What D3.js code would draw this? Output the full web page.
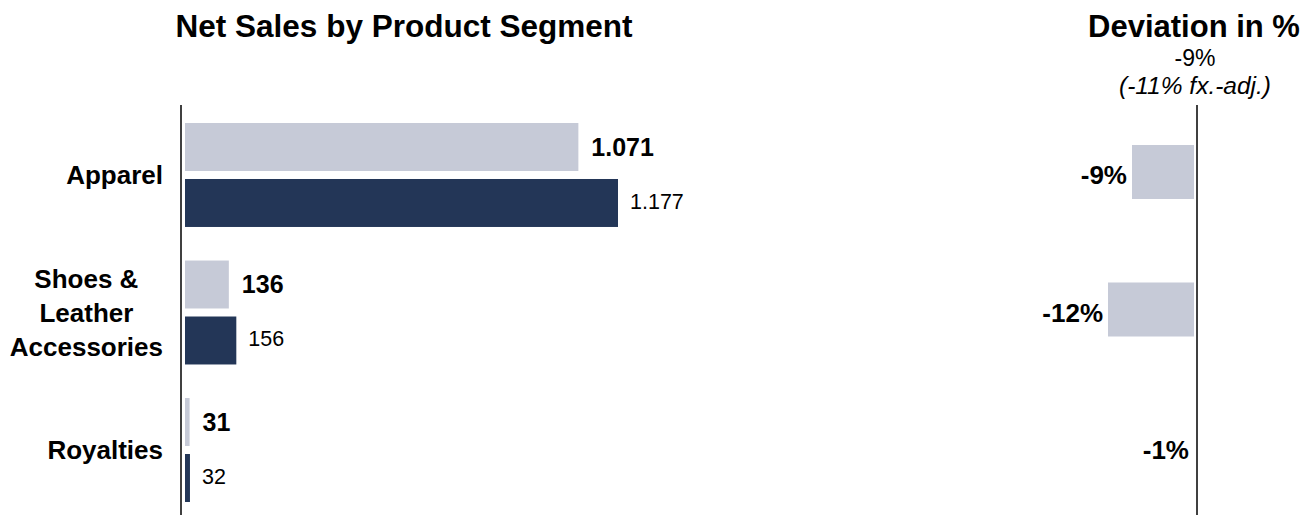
<!DOCTYPE html>
<html>
<head>
<meta charset="utf-8">
<script src="https://cdn.jsdelivr.net/npm/d3@7"></script>
<style>
  body { margin: 0; background: #fff; }
  text { font-family: "Liberation Sans", Arial, sans-serif; fill: #000; }
</style>
</head>
<body>
<svg id="chart" width="1305" height="515"></svg>
<script>
// data
const categories = ["Apparel", "Shoes & Leather Accessories", "Royalties"];
const categoryLines = [["Apparel"], ["Shoes &", "Leather", "Accessories"], ["Royalties"]];
const currentYear = [1071, 136, 31];
const previousYear = [1177, 156, 32];
const deviation = [-9, -12, -1];
const valueLabelsCur = ["1.071", "136", "31"];
const valueLabelsPrev = ["1.177", "156", "32"];

const svg = d3.select("#chart");
const light = "#c6cad7", dark = "#233657";

// titles
svg.append("text").attr("x", 404).attr("y", 37).attr("text-anchor", "middle")
  .style("font-size", "31.5px").style("font-weight", "bold").text("Net Sales by Product Segment");
svg.append("text").attr("x", 1194).attr("y", 37).attr("text-anchor", "middle")
  .style("font-size", "31px").style("font-weight", "bold").text("Deviation in %");
svg.append("text").attr("x", 1195).attr("y", 66).attr("text-anchor", "middle")
  .style("font-size", "23px").text("-9%");
svg.append("text").attr("x", 1195).attr("y", 94).attr("text-anchor", "middle")
  .style("font-size", "24.5px").style("font-style", "italic").text("(-11% fx.-adj.)");

// band scale for categories
const y = d3.scaleBand().domain(categories).range([105, 520]).paddingInner(0.244).paddingOuter(0.131);
const sub = d3.scaleBand().domain(["cur", "prev"]).range([0, y.bandwidth()]).paddingInner(0.143);

// left panel
const axisX = 181;
const x = d3.scaleLinear().domain([0, 1177]).range([178, 618]);
const barStart = axisX + 4;
const labelRight = 163;

const g = svg.append("g");
categories.forEach((c, i) => {
  const y0 = y(c);
  g.append("rect").attr("x", barStart).attr("y", y0 + sub("cur"))
    .attr("width", Math.max(0, x(currentYear[i]) - barStart)).attr("height", sub.bandwidth())
    .attr("fill", light);
  g.append("rect").attr("x", barStart).attr("y", y0 + sub("prev"))
    .attr("width", Math.max(0, x(previousYear[i]) - barStart)).attr("height", sub.bandwidth())
    .attr("fill", dark);
  g.append("text").attr("x", x(currentYear[i]) + 13).attr("y", y0 + sub("cur") + sub.bandwidth() / 2)
    .attr("dy", "0.35em").style("font-size", "25px").style("font-weight", "bold").text(valueLabelsCur[i]);
  g.append("text").attr("x", x(previousYear[i]) + 12).attr("y", y0 + sub("prev") + sub.bandwidth() / 2 - 2)
    .attr("dy", "0.35em").style("font-size", "21.5px").text(valueLabelsPrev[i]);

  // category label: multi-line block, lines centred, block right-aligned
  const lines = categoryLines[i];
  const cy = y0 + y.bandwidth() / 2;
  const lh = 34;
  const texts = lines.map((l, j) =>
    g.append("text").attr("y", cy + (j - (lines.length - 1) / 2) * lh)
      .attr("dy", "0.35em").attr("text-anchor", "middle")
      .style("font-size", "26px").style("font-weight", "bold").text(l)
  );
  const maxW = d3.max(texts, (t) => t.node().getComputedTextLength());
  texts.forEach((t) => t.attr("x", labelRight - maxW / 2));
});
g.append("line").attr("x1", axisX).attr("x2", axisX).attr("y1", 105).attr("y2", 515)
  .attr("stroke", "#000").attr("stroke-width", 1.5);

// right panel
const rAxisX = 1197;
const xd = d3.scaleLinear().domain([-12, 0]).range([1108, 1204]);
const barEnd = rAxisX - 3;
const devH = 54;
categories.forEach((c, i) => {
  const cy = y(c) + y.bandwidth() / 2;
  const w = barEnd - xd(deviation[i]);
  if (w > 0) {
    svg.append("rect").attr("x", xd(deviation[i])).attr("y", cy - 3 - devH / 2)
      .attr("width", w).attr("height", devH).attr("fill", light);
  }
  svg.append("text").attr("x", Math.min(xd(deviation[i]), barEnd) - 5).attr("y", cy)
    .attr("dy", "0.35em").attr("text-anchor", "end")
    .style("font-size", "26px").style("font-weight", "bold").text(deviation[i] + "%");
});
svg.append("line").attr("x1", rAxisX).attr("x2", rAxisX).attr("y1", 105).attr("y2", 515)
  .attr("stroke", "#000").attr("stroke-width", 1.5);
</script>
</body>
</html>
